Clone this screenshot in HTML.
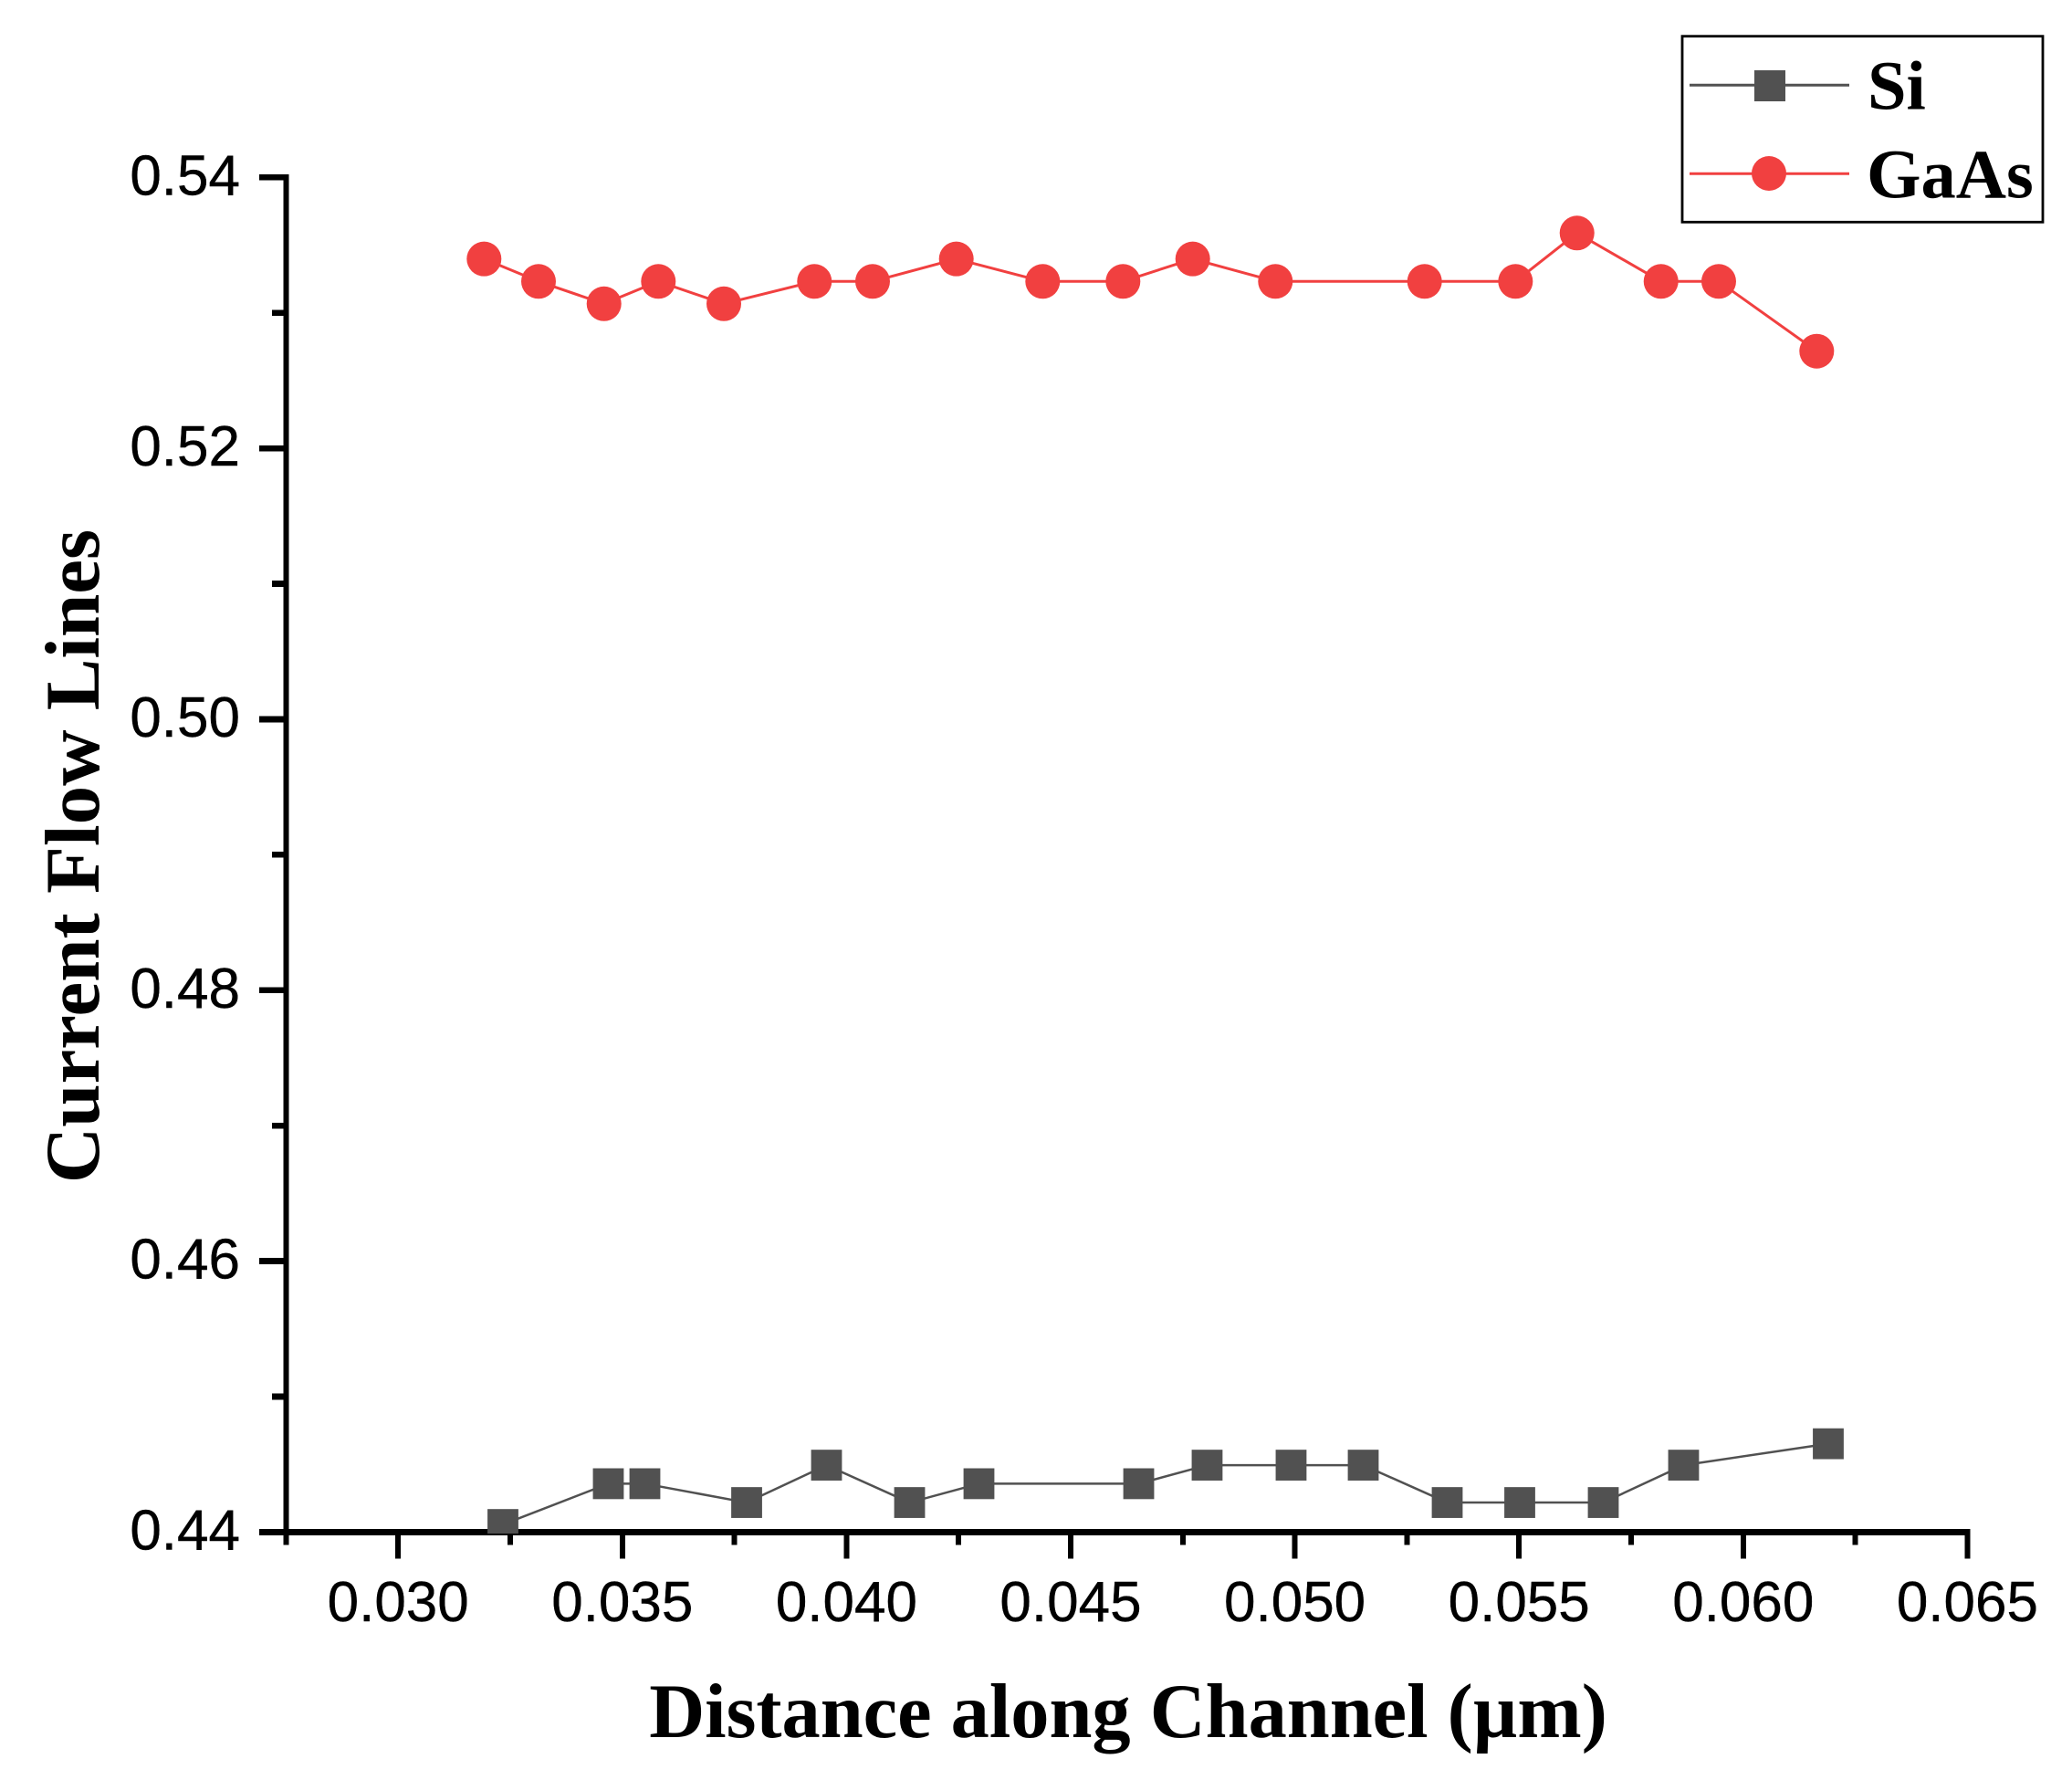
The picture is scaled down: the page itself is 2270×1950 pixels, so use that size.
<!DOCTYPE html>
<html lang="en">
<head>
<meta charset="utf-8">
<title>Current Flow Lines vs Distance along Channel</title>
<style>
html,body{margin:0;padding:0;background:#fff;}
svg{display:block;}
.tick-label{font-family:"Liberation Sans",Arial,sans-serif;font-size:62px;fill:#000;stroke:#000;stroke-width:0.4px;}
.axis-title,.legend-label{font-family:"Liberation Serif","Times New Roman",serif;font-weight:bold;fill:#000;}
.axis-title{font-size:84.4px;}
.legend-label{font-size:76.5px;}
</style>
</head>
<body>
<svg id="chart" xmlns="http://www.w3.org/2000/svg" width="2270" height="1950" viewBox="0 0 2270 1950">
  <rect x="0" y="0" width="2270" height="1950" fill="#ffffff"/>
  <defs>
    <clipPath id="plot-clip"><rect x="284" y="0" width="1986" height="1680"/></clipPath>
  </defs>
  <g id="axes"></g>
  <g id="series-si" clip-path="url(#plot-clip)"></g>
  <g id="series-gaas" clip-path="url(#plot-clip)"></g>
  <text class="axis-title" x="1236" y="1903" text-anchor="middle">Distance along Channel (µm)</text>
  <text class="axis-title" transform="translate(108,938) rotate(-90)" text-anchor="middle" style="font-size:85px">Current Flow Lines</text>
  <g>
    <rect x="1843" y="39.7" width="395" height="203.6" fill="#ffffff" stroke="#000000" stroke-width="2.8"/>
    <line x1="1851" y1="93.3" x2="2026" y2="93.3" stroke="#515151" stroke-width="3"/>
    <rect x="1922" y="77" width="34" height="34" fill="#515151"/>
    <text class="legend-label" x="2046" y="119.5">Si</text>
    <line x1="1851" y1="190.3" x2="2026" y2="190.3" stroke="#F14040" stroke-width="3"/>
    <circle cx="1938" cy="190" r="19" fill="#F14040"/>
    <text class="legend-label" x="2045" y="216.5">GaAs</text>
  </g>
</svg>
<script>
var siX = [0.032337,0.034688,0.035503,0.037773,0.039554,0.041407,0.042954,0.046517,0.048043,0.049916,0.051525,0.053398,0.055016,0.056879,0.058670,0.061897];
var siY = [0.44056,0.44357,0.44357,0.44218,0.44494,0.44218,0.44357,0.44357,0.44494,0.44494,0.44494,0.44218,0.44218,0.44218,0.44494,0.44652];
var gaasX = [0.031916,0.033131,0.034591,0.035804,0.037264,0.039285,0.040582,0.042449,0.044375,0.046167,0.047722,0.049566,0.052893,0.054921,0.056293,0.058166,0.059454,0.061639];
var gaasY = [0.53398,0.53232,0.53067,0.53232,0.53067,0.53232,0.53232,0.53398,0.53232,0.53232,0.53398,0.53232,0.53232,0.53232,0.53589,0.53232,0.53232,0.52717];
var xMajorTicks = [0.030,0.035,0.040,0.045,0.050,0.055,0.060,0.065];
var xMajorLabels = ["0.030","0.035","0.040","0.045","0.050","0.055","0.060","0.065"];
var xMinorTicks = [0.0275,0.0325,0.0375,0.0425,0.0475,0.0525,0.0575,0.0625];
var yMajorTicks = [0.44,0.46,0.48,0.50,0.52,0.54];
var yMajorLabels = ["0.44","0.46","0.48","0.50","0.52","0.54"];
var yMinorTicks = [0.45,0.47,0.49,0.51,0.53];

var NS = 'http://www.w3.org/2000/svg';
function xScale(v){ return 436.2 + (v - 0.030) * 49120; }
function yScale(v){ return 1678.4 - (v - 0.44) * 14841; }

function make(parent, tag, props){
  var el = document.createElementNS(NS, tag);
  for (var k in props) { el.setAttribute(k, props[k]); }
  parent.appendChild(el);
  return el;
}

var axes = document.getElementById('axes');
var xAxisY = yScale(0.44);
var yAxisX = xScale(0.0275);

xMajorTicks.forEach(function(v, i){
  var t = make(axes, 'line', {x1:xScale(v), y1:xAxisY, x2:xScale(v), y2:1707.3, stroke:'#000', 'stroke-width':6, 'shape-rendering':'crispEdges'});
  
  
  var l = make(axes, 'text', {'class':'tick-label', x:xScale(v), y:1776, 'text-anchor':'middle'});
  l.textContent = xMajorLabels[i];
  
  
});
xMinorTicks.forEach(function(v){
  var t = make(axes, 'line', {x1:xScale(v), y1:xAxisY, x2:xScale(v), y2:1692.7, stroke:'#000', 'stroke-width':6, 'shape-rendering':'crispEdges'});
  
  
});
yMajorTicks.forEach(function(v, i){
  var t = make(axes, 'line', {x1:284, y1:yScale(v), x2:yAxisX, y2:yScale(v), stroke:'#000', 'stroke-width':6.7, 'shape-rendering':'crispEdges'});
  
  
  var l = make(axes, 'text', {'class':'tick-label', x:263, y:yScale(v) + 19, 'text-anchor':'end'});
  l.textContent = yMajorLabels[i];
  
  
});
yMinorTicks.forEach(function(v){
  var t = make(axes, 'line', {x1:298, y1:yScale(v), x2:yAxisX, y2:yScale(v), stroke:'#000', 'stroke-width':6.7, 'shape-rendering':'crispEdges'});
  
  
});
var xAxisLine = make(axes, 'line', {x1:284, y1:xAxisY, x2:xScale(0.065) + 3, y2:xAxisY, stroke:'#000', 'stroke-width':7, 'shape-rendering':'crispEdges'});


var yAxisLine = make(axes, 'line', {x1:yAxisX, y1:yScale(0.54) - 3.4, x2:yAxisX, y2:1692.7, stroke:'#000', 'stroke-width':6.3, 'shape-rendering':'crispEdges'});



function pointsOf(xs, ys){
  return xs.map(function(v, i){ return xScale(v).toFixed(2) + ',' + yScale(ys[i]).toFixed(2); }).join(' ');
}

var siGroup = document.getElementById('series-si');
var siLine = make(siGroup, 'polyline', {points:pointsOf(siX, siY), fill:'none', stroke:'#515151', 'stroke-width':2.5, 'stroke-linejoin':'round'});


siX.forEach(function(v, i){
  var m = make(siGroup, 'rect', {x:xScale(v) - 16.9, y:yScale(siY[i]) - 16.9, width:33.8, height:33.8, fill:'#515151'});
  
  
});

var gaasGroup = document.getElementById('series-gaas');
var gaasLine = make(gaasGroup, 'polyline', {points:pointsOf(gaasX, gaasY), fill:'none', stroke:'#F14040', 'stroke-width':3, 'stroke-linejoin':'round'});


gaasX.forEach(function(v, i){
  var m = make(gaasGroup, 'circle', {cx:xScale(v), cy:yScale(gaasY[i]), r:19, fill:'#F14040'});
  
  
});
</script>
</body>
</html>
